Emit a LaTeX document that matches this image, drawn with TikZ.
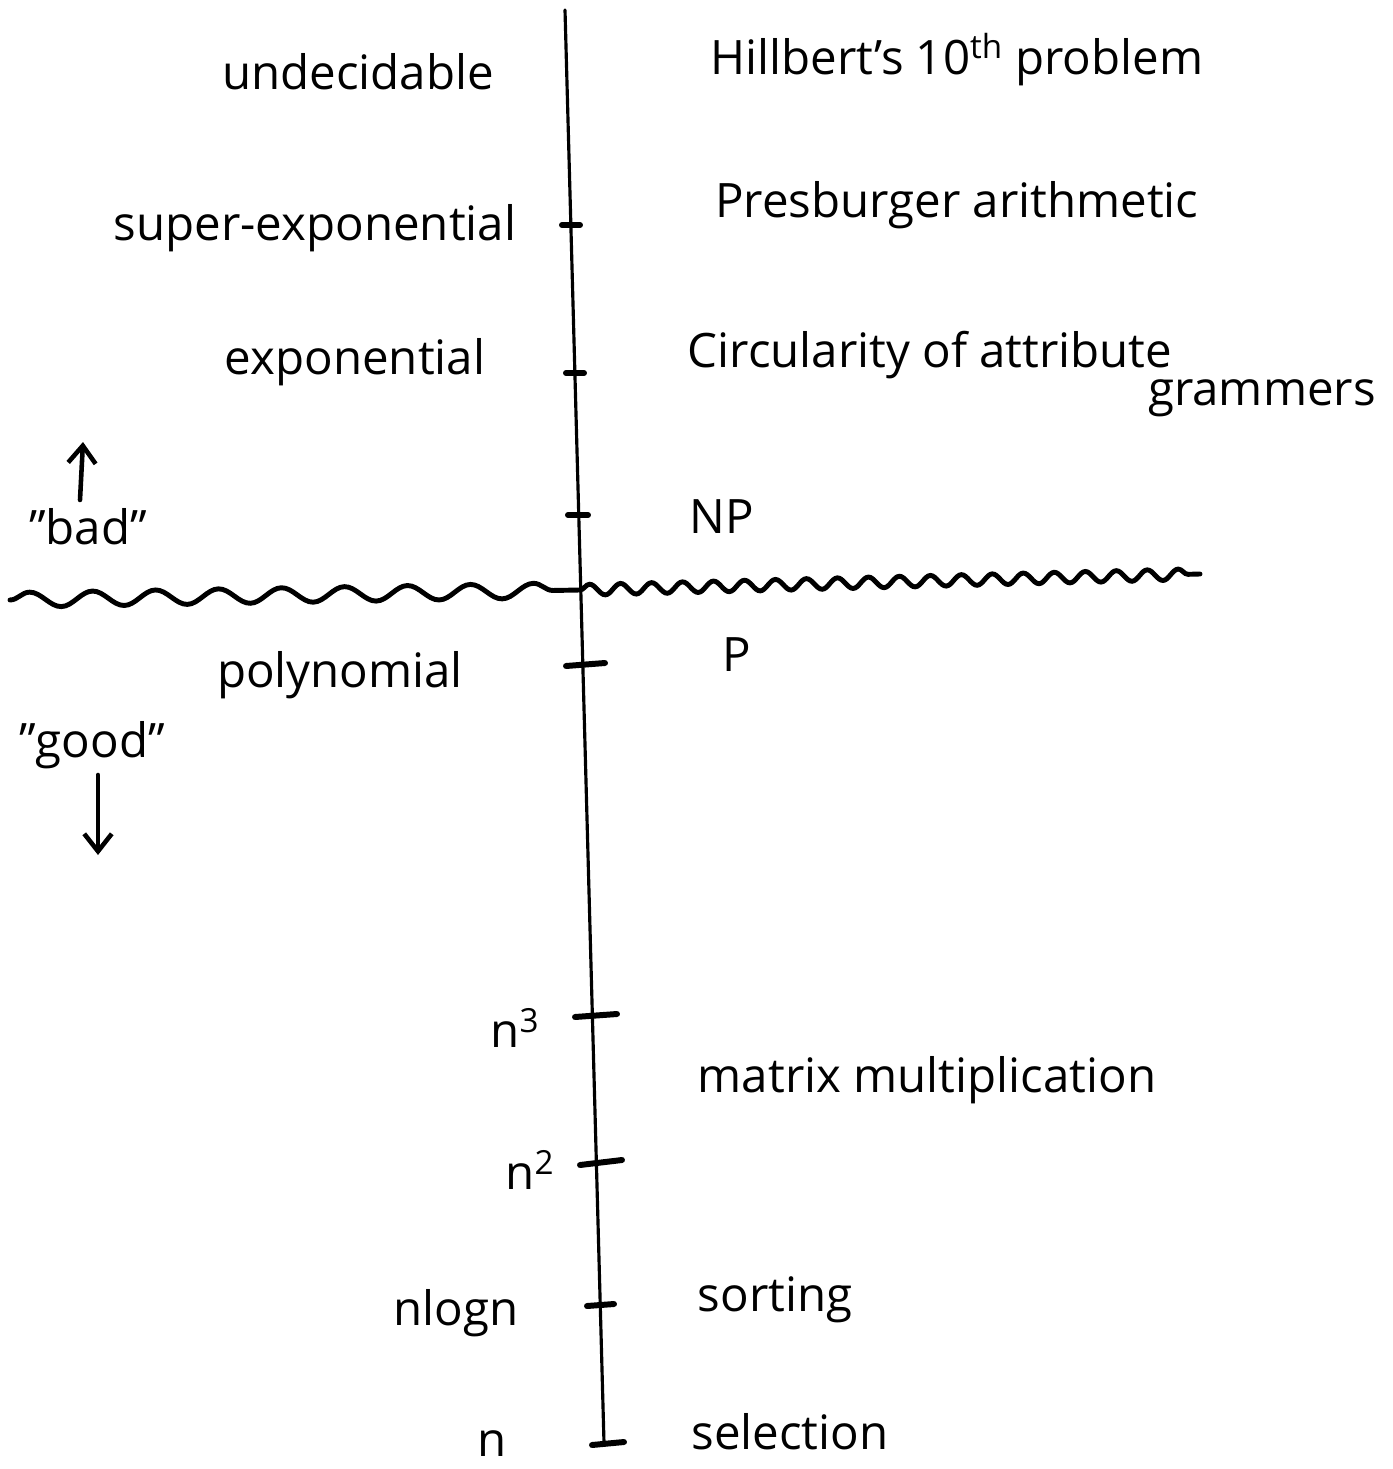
\documentclass[tikz,border=0pt]{standalone}
\usepackage{fontspec}
\setmainfont{Open Sans}
\usetikzlibrary{decorations.pathmorphing,arrows.meta}
\begin{document}
\begin{tikzpicture}[x=0.02cm,y=-0.02cm,
  lbl/.style={font=\fontsize{27}{30}\selectfont, inner sep=0pt},
  axisline/.style={line width=1.8pt, line cap=round},
  tick/.style={line width=3.4pt, line cap=round},
  waveL/.style={line width=2.8pt, line cap=round, decorate, decoration={snake, segment length=1.26cm, amplitude=0.15cm}},
  waveR/.style={line width=2.8pt, line cap=round, decorate, decoration={snake, segment length=0.62cm, amplitude=0.11cm}},
  arr/.style={line width=2.6pt, line cap=round, -{Straight Barb[length=0.35cm,width=0.55cm,line width=2.6pt]}}]
\useasboundingbox (0,0) rectangle (1392,1469);
% axis
\coordinate (top) at (565,10);
\coordinate (bot) at (604,1443);
\draw[axisline] (top) -- (bot);
% ticks
\coordinate (t1a) at (562,225); \coordinate (t1b) at (580,225);
\coordinate (t2a) at (566,373); \coordinate (t2b) at (584,373);
\coordinate (t3a) at (568,515); \coordinate (t3b) at (588,515);
\coordinate (t4a) at (566,666); \coordinate (t4b) at (605,663);
\coordinate (t5a) at (575,1017); \coordinate (t5b) at (617,1014);
\coordinate (t6a) at (580,1165); \coordinate (t6b) at (622,1160);
\coordinate (t7a) at (587,1306); \coordinate (t7b) at (614,1304);
\coordinate (t8a) at (592,1445); \coordinate (t8b) at (624,1442);
\foreach \i in {1,...,8}{\draw[tick] (t\i a) -- (t\i b);}
% wave
\coordinate (w1) at (10,600);
\coordinate (wm) at (580,590);
\coordinate (w2) at (1200,574);
\draw[waveL] (w1) -- (wm);
\draw[waveR] (wm) -- (w2);
% left labels
\node[lbl] (undec) at (358,72) {undecidable};
\node[lbl] (superexp) at (315,228) {super-exponential};
\node[lbl] (expo) at (355,362) {exponential};
\node[lbl] (bad) at (88,527) {"bad"};
\node[lbl] (poly) at (340,675) {polynomial};
\node[lbl] (good) at (92,745) {"good"};
\node[lbl] (n3) at (515,1028) {n\textsuperscript{3}};
\node[lbl] (n2) at (530,1170) {n\textsuperscript{2}};
\node[lbl] (nlogn) at (456,1313) {nlogn};
\node[lbl] (n) at (492,1444) {n};
% arrows
\coordinate (ua) at (80,500);
\coordinate (ub) at (83,442);
\draw[arr] (ua) -- (ub);
\coordinate (da) at (98,775);
\coordinate (db) at (98,855);
\draw[arr] (da) -- (db);
% right labels
\node[lbl] (hilb) at (957,60) {Hillbert's 10\textsuperscript{th} problem};
\node[lbl] (pres) at (957,205) {Presburger arithmetic};
\node[lbl] (circ) at (930,355) {Circularity of attribute};
\node[lbl] (gram) at (1262,398) {grammers};
\node[lbl] (np) at (722,517) {NP};
\node[lbl] (p) at (737,655) {P};
\node[lbl] (matrix) at (927,1080) {matrix multiplication};
\node[lbl] (sort) at (775,1300) {sorting};
\node[lbl] (sel) at (790,1432) {selection};
\end{tikzpicture}
\end{document}
